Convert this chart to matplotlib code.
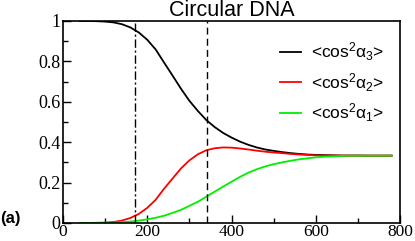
import matplotlib
matplotlib.use("Agg")
import matplotlib.pyplot as plt
from matplotlib.ticker import MultipleLocator

# valores
x = [40, 60, 80, 100, 120, 140, 160, 180, 200, 220, 240, 260, 280, 300,
     320, 340, 360, 380, 400, 420, 440, 460, 480, 500, 520, 540, 560, 580,
     600, 620, 640, 660, 680, 700, 720, 740, 760, 780]

cos_a3 = [1.0, 1.0, 0.999, 0.997, 0.993, 0.984, 0.968, 0.943, 0.907, 0.859,
          0.794, 0.73, 0.665, 0.605, 0.555, 0.51, 0.475, 0.446, 0.423, 0.403,
          0.387, 0.374, 0.364, 0.357, 0.351, 0.346, 0.342, 0.339, 0.337,
          0.336, 0.335, 0.334, 0.334, 0.334, 0.3335, 0.3335, 0.3335, 0.3335]

cos_a2 = [0.0, 0.0, 0.001, 0.002, 0.005, 0.012, 0.025, 0.045, 0.075, 0.115,
          0.17, 0.22, 0.27, 0.31, 0.34, 0.36, 0.37, 0.374, 0.373, 0.369,
          0.364, 0.358, 0.353, 0.349, 0.346, 0.342, 0.339, 0.337, 0.335,
          0.334, 0.334, 0.3335, 0.3335, 0.3335, 0.3335, 0.3335, 0.3335, 0.3335]

cos_a1 = [0.0, 0.0, 0.0, 0.001, 0.002, 0.004, 0.007, 0.012, 0.018, 0.026,
          0.036, 0.05, 0.065, 0.085, 0.105, 0.13, 0.155, 0.18, 0.204, 0.228,
          0.249, 0.266, 0.28, 0.291, 0.3, 0.308, 0.315, 0.32, 0.325, 0.328,
          0.33, 0.332, 0.333, 0.333, 0.3333, 0.3333, 0.3333, 0.3333]

x_pontodash = 170
x_dash = 341

plt.rcParams['mathtext.fontset'] = 'custom'
plt.rcParams['mathtext.rm'] = 'Liberation Sans'
plt.rcParams['mathtext.it'] = 'Liberation Sans'

fig = plt.figure(figsize=(4.15, 2.41), dpi=100)
ax = fig.add_axes([0.1518, 0.0747, 0.8121, 0.8382])

ax.plot(x, cos_a3, color='black', lw=1.3, label=r'<cos$^{2}\mathrm{\alpha}_{3}$>')
ax.plot(x, cos_a2, color='red', lw=1.3, label=r'<cos$^{2}\mathrm{\alpha}_{2}$>')
ax.plot(x, cos_a1, color='#00ee00', lw=1.3, label=r'<cos$^{2}\mathrm{\alpha}_{1}$>')

ax.axvline(x_pontodash, color='black', lw=1.0, ls=(0, (6, 2, 1.5, 2)))
ax.axvline(x_dash, color='black', lw=1.0, ls=(0, (5, 3)))

ax.set_xlim(0, 800)
ax.set_ylim(0, 1)
ax.xaxis.set_major_locator(MultipleLocator(200))
ax.xaxis.set_minor_locator(MultipleLocator(100))
ax.yaxis.set_major_locator(MultipleLocator(0.2))
ax.yaxis.set_minor_locator(MultipleLocator(0.1))
ax.set_yticks([0, 0.2, 0.4, 0.6, 0.8, 1.0])
ax.set_yticklabels(['0', '0.2', '0.4', '0.6', '0.8', '1'])
ax.tick_params(which='both', direction='in', top=False, right=False,
               labelsize=13, pad=2)
ax.tick_params(axis='x', labelsize=12.5, pad=1)
ax.tick_params(which='major', length=6, width=1)
ax.tick_params(which='minor', length=3.5, width=1)
for lab in ax.get_xticklabels() + ax.get_yticklabels():
    lab.set_family('Liberation Serif')
for s in ax.spines.values():
    s.set_linewidth(1.2)

ax.set_title('Circular DNA', family='Liberation Sans', fontsize=15.5, pad=0.5)

leg = ax.legend(loc='upper right', bbox_to_anchor=(1.0, 0.98), frameon=False,
                prop={'family': 'Liberation Sans', 'size': 12.5},
                handlelength=1.2, handletextpad=0.6, labelspacing=0.45)

fig.text(0.0, 0.092, '(a)', family='Liberation Sans', fontsize=12,
         fontweight='bold', va='center')

fig.savefig('out.png', dpi=100)
